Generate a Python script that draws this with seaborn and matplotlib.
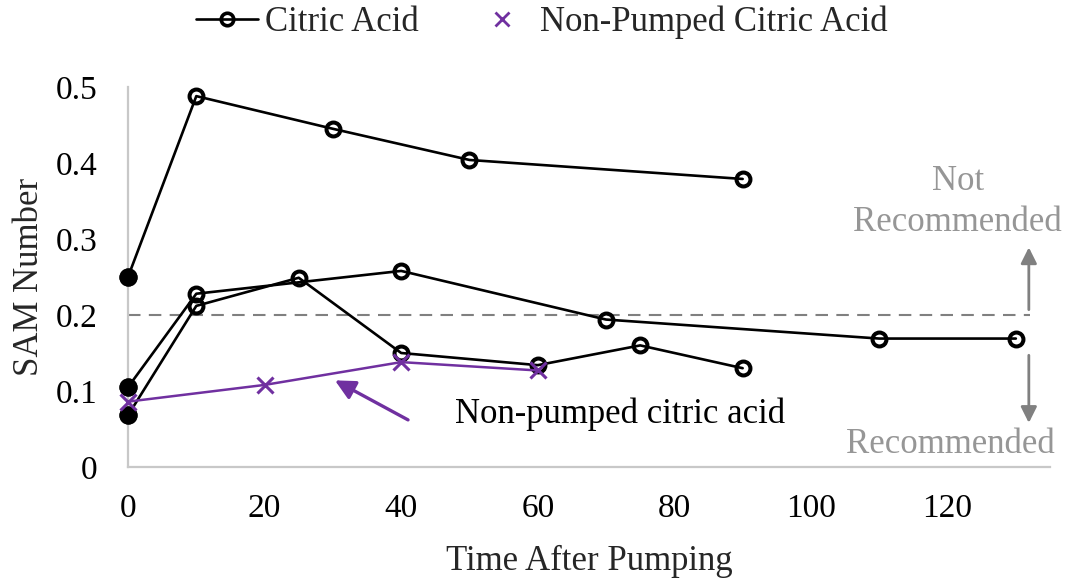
import numpy as np
import pandas as pd
import matplotlib
matplotlib.use("Agg")
import matplotlib.pyplot as plt
import seaborn as sns
from matplotlib.lines import Line2D
from matplotlib.ticker import FuncFormatter

# ---- data ----
time_a = [0, 10, 30, 50, 90]
sam_a = [0.250, 0.488, 0.445, 0.404, 0.379]

time_b = [0, 10, 40, 70, 110, 130]
sam_b = [0.105, 0.228, 0.258, 0.194, 0.169, 0.169]

time_c = [0, 10, 25, 40, 60, 75, 90]
sam_c = [0.068, 0.212, 0.249, 0.150, 0.134, 0.160, 0.130]

time_np = [0, 20, 40, 60]
sam_np = [0.086, 0.108, 0.138, 0.127]

x_ticks = [0, 20, 40, 60, 80, 100, 120]
y_ticks = [0, 0.1, 0.2, 0.3, 0.4, 0.5]
threshold = 0.2

legend_labels = ["Citric Acid", "Non-Pumped Citric Acid"]
x_label = "Time After Pumping"
y_label = "SAM Number"

PURPLE = "#7030A0"
GRAY_TXT = "#969696"
GRAY_ARR = "#808080"

sns.set_style("white")
plt.rcParams["font.family"] = ["Liberation Serif", "DejaVu Serif"]

fig = plt.figure(figsize=(10.71, 5.80), dpi=100)
ax = fig.add_axes([128 / 1071, 1 - 467 / 580, 922 / 1071, 380 / 580])

pumped = [(time_a, sam_a), (time_b, sam_b), (time_c, sam_c)]
for t, s in pumped:
    df = pd.DataFrame({"time": t, "sam": s})
    sns.lineplot(data=df, x="time", y="sam", ax=ax, color="black", lw=1.9,
                 marker="o", markersize=10, markerfacecolor="none",
                 markeredgecolor="black", markeredgewidth=2.9, clip_on=False,
                 zorder=3)

# filled starting points
start = pd.DataFrame({"time": [t[0] for t, _ in pumped],
                      "sam": [s[0] for _, s in pumped]})
sns.scatterplot(data=start, x="time", y="sam", ax=ax, color="black", s=150,
                edgecolor="black", clip_on=False, zorder=4)

df_np = pd.DataFrame({"time": time_np, "sam": sam_np})
sns.lineplot(data=df_np, x="time", y="sam", ax=ax, color=PURPLE, lw=1.8,
             marker="x", markersize=11, markeredgewidth=2.2,
             markeredgecolor=PURPLE, clip_on=False, zorder=5)

# threshold dashed line
ax.hlines(threshold, 0, 132, colors=GRAY_ARR, linestyles=(0, (6, 4)), lw=1.5,
          zorder=2)

ax.set_xlim(0, 135)
ax.set_ylim(0, 0.5)
ax.set_xticks(x_ticks)
ax.set_yticks(y_ticks)
ax.yaxis.set_major_formatter(FuncFormatter(lambda v, p: f"{v:g}"))
ax.tick_params(axis="both", length=0, labelsize=24, colors="black")
ax.tick_params(axis="x", pad=19)
ax.tick_params(axis="y", pad=22)

for side in ["top", "right"]:
    ax.spines[side].set_visible(False)
for side in ["left", "bottom"]:
    ax.spines[side].set_color("#C8C8C8")
    ax.spines[side].set_linewidth(1.6)

ax.set_xlabel(x_label, fontsize=25)
ax.set_ylabel(y_label, fontsize=25)
ax.xaxis.label.set_va("baseline")
ax.xaxis.set_label_coords(0.5, -0.271)
ax.yaxis.label.set_va("center")
ax.yaxis.set_label_coords(-0.107, 0.5)

# annotations
ax.annotate("", xy=(30.3, 0.114), xytext=(41.0, 0.062),
            arrowprops=dict(arrowstyle="-|>", color=PURPLE, lw=2.4,
                            mutation_scale=30, shrinkA=0, shrinkB=0),
            annotation_clip=False)
ax.text(47.9, 0.058, "Non-pumped citric acid", fontsize=25, ha="left",
        va="baseline", color="black")

ax.text(121.5, 0.364, "Not", fontsize=25, ha="center", va="baseline",
        color=GRAY_TXT, clip_on=False)
ax.text(121.5, 0.311, "Recommended", fontsize=25, ha="center", va="baseline",
        color=GRAY_TXT, clip_on=False)
ax.text(120.4, 0.018, "Recommended", fontsize=25, ha="center", va="baseline",
        color=GRAY_TXT, clip_on=False)
ax.annotate("", xy=(131.9, 0.289), xytext=(131.9, 0.207),
            arrowprops=dict(arrowstyle="-|>", color=GRAY_ARR, lw=2.0,
                            mutation_scale=24, shrinkA=0, shrinkB=0),
            annotation_clip=False)
ax.annotate("", xy=(131.9, 0.058), xytext=(131.9, 0.147),
            arrowprops=dict(arrowstyle="-|>", color=GRAY_ARR, lw=2.0,
                            mutation_scale=24, shrinkA=0, shrinkB=0),
            annotation_clip=False)

handles = [
    Line2D([], [], color="black", lw=1.9, marker="o", markersize=9,
           markerfacecolor="none", markeredgecolor="black",
           markeredgewidth=2.6),
    Line2D([], [], ls="none", marker="x", markersize=10,
           markeredgewidth=2.0, color=PURPLE),
]
fig.legend(handles, legend_labels, loc="center", ncol=2,
           bbox_to_anchor=(0.506, 0.962), frameon=False, fontsize=25,
           handlelength=1.8, handletextpad=0.2, columnspacing=1.5,
           borderaxespad=0)

fig.savefig("out.png", dpi=100)
